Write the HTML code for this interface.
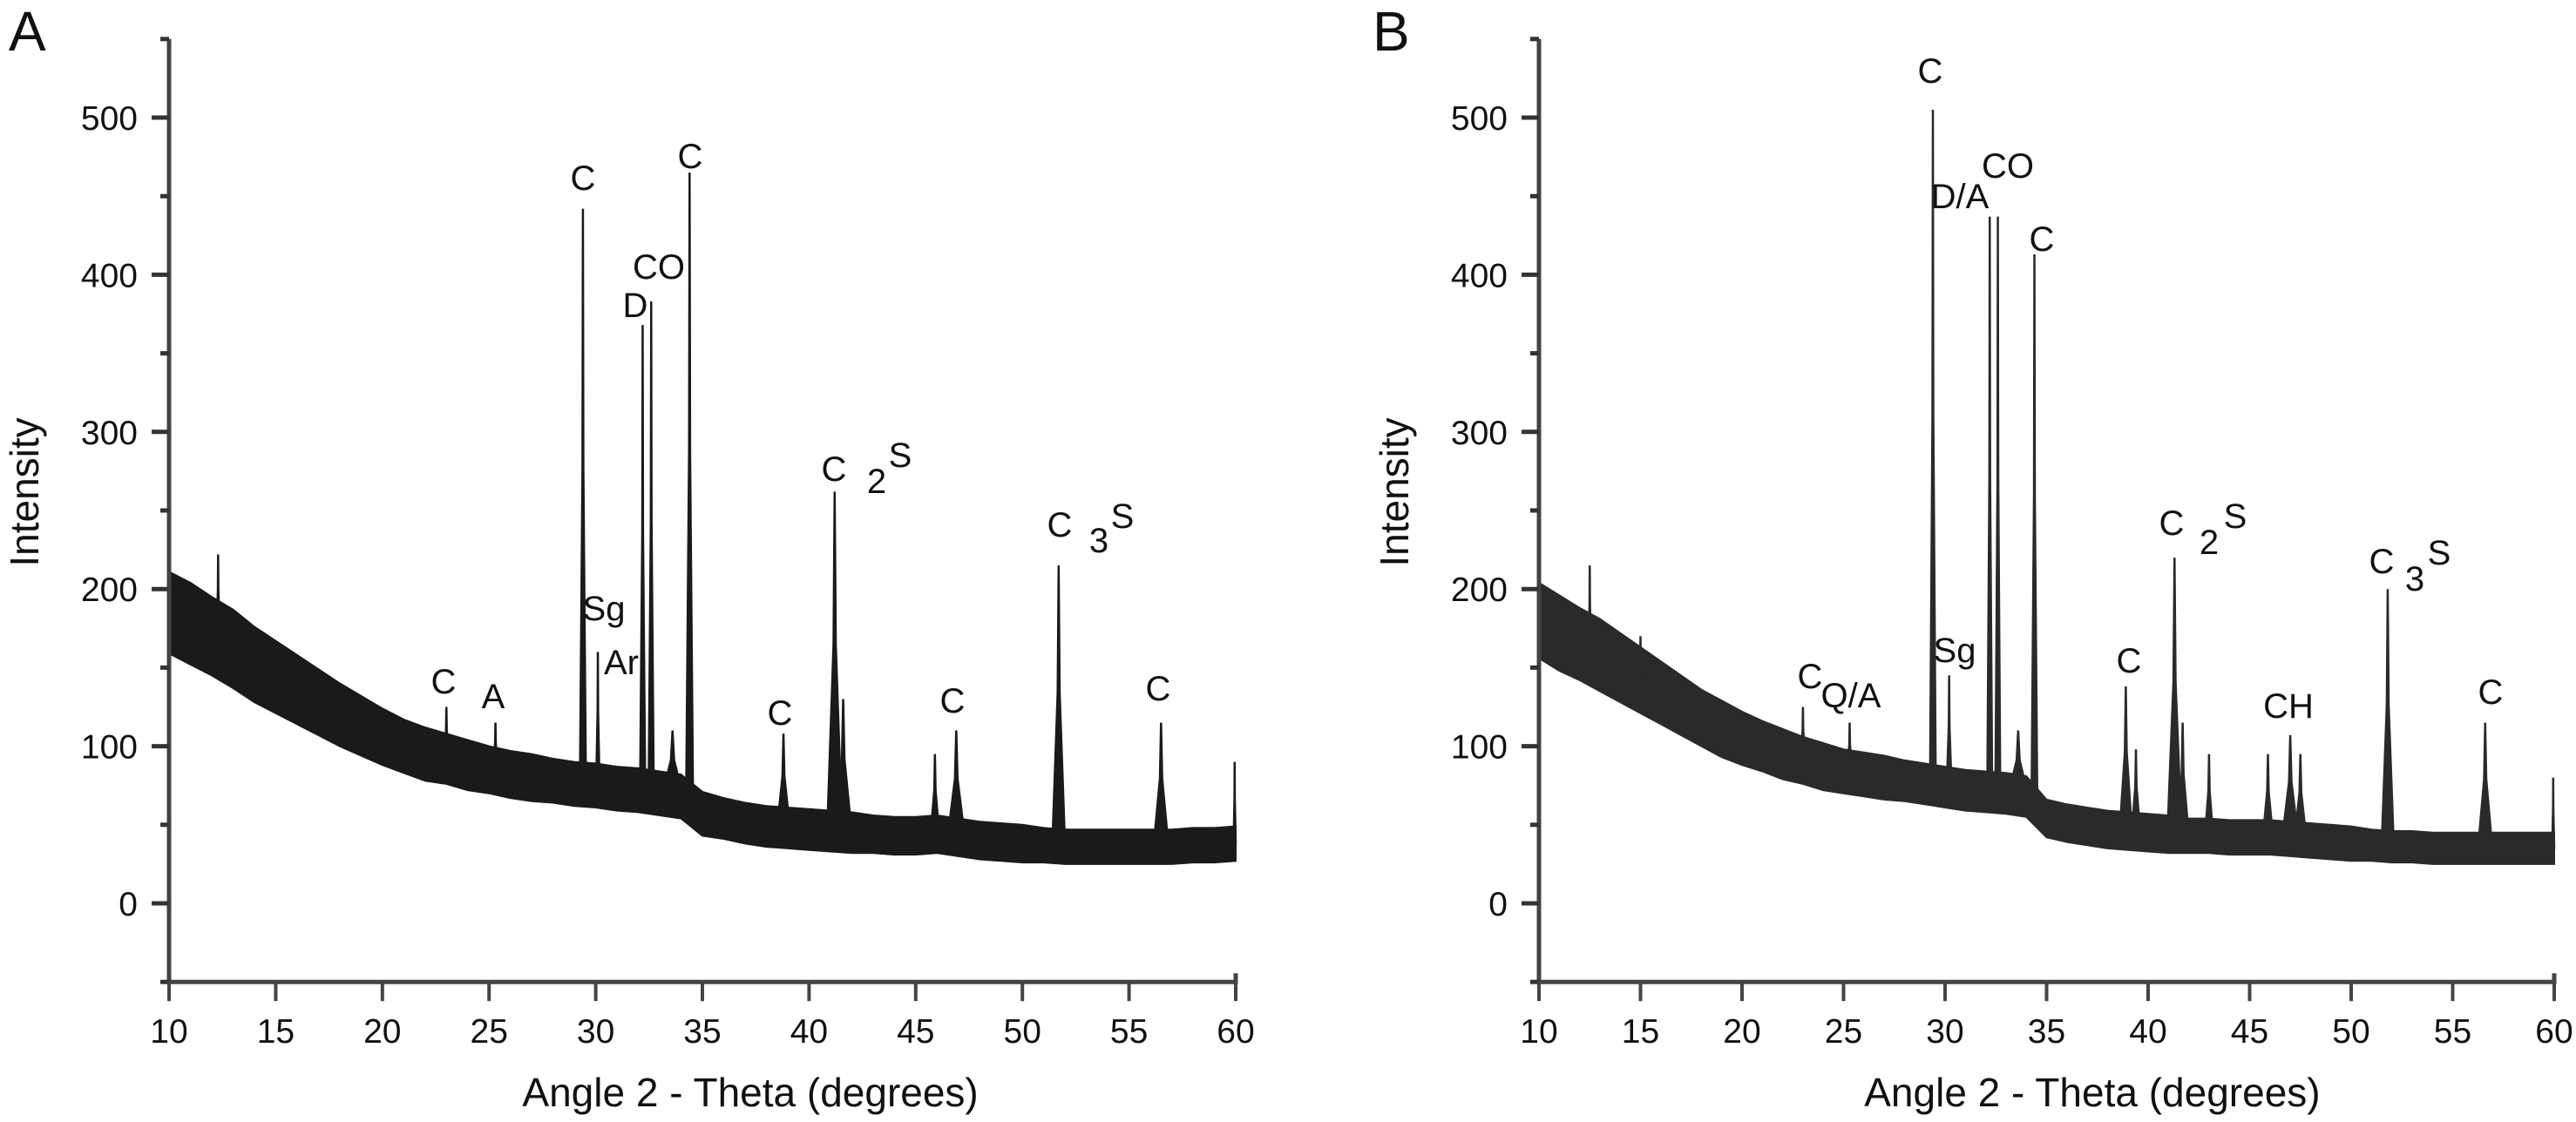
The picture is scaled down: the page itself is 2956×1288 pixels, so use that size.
<!DOCTYPE html>
<html><head><meta charset="utf-8">
<style>
html,body{margin:0;padding:0;background:#fff;}
svg{display:block;font-family:"Liberation Sans",sans-serif;}
</style></head>
<body>
<svg id="chart" width="2956" height="1288" viewBox="0 0 2956 1288" xmlns="http://www.w3.org/2000/svg">
<rect width="2956" height="1288" fill="#fff"/>
<g id="panelA"></g>
<g id="panelB"></g>
</svg>
<script>
// ---- data ----
const xTicks = [10,15,20,25,30,35,40,45,50,55,60];
const yTicks = [0,100,200,300,400,500];
const yMinor = [-50,50,150,250,350,450,550];
const angles = [10,11,12,13,14,15,16,17,18,19,20,21,22,23,24,25,26,27,28,29,30,31,32,33,34,35,36,37,38,39,40,41,42,43,44,45,46,47,48,49,50,51,52,53,54,55,56,57,58,59,60];
const baseA = [185,178,170,162,152,144,136,128,120,113,106,100,95,92,88,85,82,80,78,76,75,73,72,70,68,57,54,51,49,48,47,46,45,44,43,43,44,42,40,39,38,37,36,36,36,36,36,36,37,37,38];
const ampA  = [26,26,25,25,24,23,22,21,20,19,18,17,17,16,16,15,15,15,14,14,14,14,14,14,14,14,13,13,13,13,13,13,13,12,12,12,12,12,12,12,12,11,11,11,11,11,11,11,11,11,11];
const baseB = [180,172,165,158,150,142,134,126,118,111,105,100,95,91,87,84,82,80,78,76,74,72,71,70,68,54,51,49,47,46,45,44,43,43,42,42,42,41,40,39,38,37,36,36,35,35,35,35,35,35,35];
const ampB  = [24,24,23,23,22,21,20,19,18,18,17,16,16,15,15,14,14,14,13,13,13,13,13,13,13,12,12,12,12,12,12,12,11,11,11,11,11,11,11,11,11,10,10,10,10,10,10,10,10,10,10];
const peakPosA = [12.3,15.0,23.0,25.3,29.4,30.1,32.2,32.6,34.4,33.6,38.8,41.2,41.6,45.9,46.9,51.7,56.5,59.95];
const peakValA = [222,165,125,115,442,160,368,383,465,110,108,262,130,95,110,215,115,90];
const peakWidA = [0.08,0.08,0.12,0.12,0.14,0.08,0.12,0.12,0.16,0.5,0.3,0.35,0.4,0.2,0.4,0.3,0.35,0.05];
const peakPosB = [12.5,15.0,23.0,25.3,29.4,30.2,32.2,32.6,34.4,33.6,38.9,39.4,41.3,41.7,43.0,45.9,47.0,47.5,51.8,56.6,59.95];
const peakValB = [215,170,125,115,505,145,437,437,413,110,138,98,220,115,95,95,107,95,200,115,80];
const peakWidB = [0.08,0.08,0.12,0.12,0.14,0.12,0.12,0.12,0.14,0.5,0.3,0.2,0.35,0.3,0.2,0.25,0.4,0.3,0.3,0.35,0.05];

const NS = "http://www.w3.org/2000/svg";
function mk(parent, tag, attrs, text){
  const e = document.createElementNS(NS, tag);
  for (const k in attrs) e.setAttribute(k, attrs[k]);
  if (text !== undefined) e.textContent = text;
  parent.appendChild(e);
  return e;
}

function drawPanel(g, o){
  const X0 = o.x0, X1 = o.x0 + o.w;
  const sx = v => X0 + (v - 10) / 50 * (X1 - X0);
  const sy = v => 1037 - v * 1.804;
  const L = mk(g, 'text', {x:o.letterX, y:58, 'font-size':64, fill:'#111'}, o.letter);
  
  
  let top = '', bot = '';
  angles.forEach((a, i) => {
    top += (i ? 'L' : 'M') + sx(a).toFixed(1) + ' ' + sy(o.base[i] + o.amp[i]).toFixed(1);
  });
  for (let i = angles.length - 1; i >= 0; i--) {
    bot += 'L' + sx(angles[i]).toFixed(1) + ' ' + sy(o.base[i] - o.amp[i]).toFixed(1);
  }
  const band = mk(g, 'path', {d: top + bot + 'Z', fill: o.col, stroke: o.col, 'stroke-width': 2});
  
  
  o.pp.forEach((p, i) => {
    const idx = Math.min(angles.length - 1, Math.round(p - 10));
    const b = o.base[idx];
    const w = o.pw[i];
    const d = 'M' + sx(p - w) + ' ' + sy(b) + 'L' + sx(p - w * 0.15) + ' ' + sy(b + (o.pv[i] - b) * 0.55) +
              'L' + sx(p) + ' ' + sy(o.pv[i]) + 'L' + sx(p + w * 0.15) + ' ' + sy(b + (o.pv[i] - b) * 0.55) +
              'L' + sx(p + w) + ' ' + sy(b) + 'Z';
    const pk = mk(g, 'path', {d: d, fill: o.col, stroke: o.col, 'stroke-width': 2.5, 'stroke-linejoin': 'miter'});
    
    
  });
  const ax = mk(g, 'path', {d: 'M' + X0 + ' ' + sy(550) + 'L' + X0 + ' ' + sy(-50) + 'L' + X1 + ' ' + sy(-50) + 'L' + X1 + ' ' + (sy(-50) - 10),
    fill: 'none', stroke: '#444', 'stroke-width': 5});
  
  
  yTicks.forEach(v => {
    const t = mk(g, 'line', {x1: X0 - 20, x2: X0, y1: sy(v), y2: sy(v), stroke: '#333', 'stroke-width': 5});
    
    
    const tl = mk(g, 'text', {x: X0 - 36, y: sy(v) + 14, 'font-size': 39, 'text-anchor': 'end', fill: '#111'}, String(v));
    
    
  });
  yMinor.forEach(v => {
    const t = mk(g, 'line', {x1: X0 - 10, x2: X0, y1: sy(v), y2: sy(v), stroke: '#333', 'stroke-width': 5});
    
    
  });
  xTicks.forEach(v => {
    const t = mk(g, 'line', {x1: sx(v), x2: sx(v), y1: sy(-50), y2: sy(-50) + 22, stroke: '#444', 'stroke-width': 4});
    
    
    const tl = mk(g, 'text', {x: sx(v), y: 1197, 'font-size': 39, 'text-anchor': 'middle', fill: '#111'}, String(v));
    
    
  });
  const xt = mk(g, 'text', {x: X0 + o.w * 0.545, y: 1270, 'font-size': 46, 'text-anchor': 'middle', fill: '#111'}, 'Angle 2 - Theta (degrees)');
  
  
  const yt = mk(g, 'text', {x: 0, y: 0, 'font-size': 46, 'text-anchor': 'middle', fill: '#111',
    transform: 'translate(' + (X0 - 150) + ',565) rotate(-90)'}, 'Intensity');
  
  
  o.labels.forEach(l => {
    const t = mk(g, 'text', {x: l[1], y: l[2], 'font-size': l[3] || 40, 'text-anchor': 'middle', fill: '#111'}, l[0]);
    
    
  });
}

drawPanel(document.getElementById('panelA'), {
  x0: 194, w: 1224, letter: 'A', letterX: 10, base: baseA, amp: ampA, pp: peakPosA, pv: peakValA, pw: peakWidA, col: '#1a1a1a',
  labels: [
    ['C', 669, 218], ['C', 792, 193], ['CO', 756, 320], ['D', 729, 364],
    ['Sg', 693, 712], ['Ar', 713, 774], ['C', 509, 796], ['A', 566, 813],
    ['C', 895, 832], ['C', 957, 552], ['2', 1006, 566], ['S', 1033, 536],
    ['C', 1216, 616], ['3', 1261, 634], ['S', 1288, 606],
    ['C', 1093, 818], ['C', 1329, 804]
  ]
});
drawPanel(document.getElementById('panelB'), {
  x0: 1766, w: 1165, letter: 'B', letterX: 1575, base: baseB, amp: ampB, pp: peakPosB, pv: peakValB, pw: peakWidB, col: '#2a2a2a',
  labels: [
    ['C', 2215, 95], ['D/A', 2249, 239], ['CO', 2304, 204], ['C', 2343, 288],
    ['Sg', 2243, 760], ['C', 2077, 790], ['Q/A', 2124, 812], ['C', 2443, 772],
    ['C', 2492, 614], ['2', 2535, 636], ['S', 2565, 606],
    ['CH', 2626, 824],
    ['C', 2733, 658], ['3', 2771, 678], ['S', 2799, 648],
    ['C', 2858, 808]
  ]
});
</script>
</body></html>
